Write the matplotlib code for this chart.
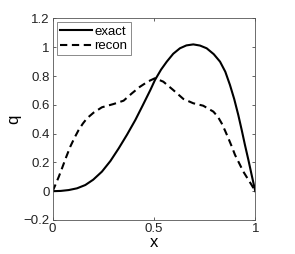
import matplotlib
matplotlib.use("Agg")
import matplotlib.pyplot as plt

x_exact = [0, 0.04, 0.079, 0.12, 0.161, 0.2, 0.243, 0.285, 0.326, 0.367, 0.408,
           0.445, 0.482, 0.505, 0.535, 0.563, 0.595, 0.628, 0.66, 0.694, 0.727,
           0.76, 0.795, 0.826, 0.852, 0.875, 0.896, 0.916, 0.933, 0.949, 0.966,
           0.982, 1.0]
q_exact = [0, 0.002, 0.008, 0.02, 0.043, 0.08, 0.136, 0.21, 0.298, 0.393, 0.495,
           0.598, 0.703, 0.773, 0.845, 0.9, 0.955, 0.993, 1.013, 1.02, 1.012,
           0.993, 0.952, 0.9, 0.83, 0.738, 0.64, 0.53, 0.425, 0.321, 0.217,
           0.113, 0.0]

x_recon = [0, 0.013, 0.03, 0.046, 0.066, 0.087, 0.108, 0.128, 0.149, 0.169, 0.202,
           0.243, 0.301, 0.35, 0.391, 0.43, 0.47, 0.505, 0.546, 0.595, 0.645,
           0.694, 0.743, 0.793, 0.815, 0.834, 0.851, 0.867, 0.884, 0.9, 0.921,
           0.941, 0.962, 0.982, 1.0]
q_recon = [0, 0.043, 0.1, 0.159, 0.235, 0.31, 0.372, 0.425, 0.47, 0.506, 0.546,
           0.583, 0.606, 0.629, 0.68, 0.725, 0.762, 0.785, 0.761, 0.703, 0.641,
           0.611, 0.594, 0.553, 0.518, 0.472, 0.42, 0.368, 0.31, 0.252, 0.193,
           0.136, 0.088, 0.043, 0.0]

xticks = [0, 0.5, 1]
xticklabels = ["0", "0.5", "1"]
yticks = [-0.2, 0, 0.2, 0.4, 0.6, 0.8, 1.0, 1.2]
yticklabels = ["\u22120.2", "0", "0.2", "0.4", "0.6", "0.8", "1", "1.2"]

plt.rcParams['font.family'] = ['Liberation Sans', 'DejaVu Sans']

fig = plt.figure(figsize=(2.95, 2.54), dpi=100)
ax = fig.add_axes([0.1786, 0.1339, 0.6868, 0.7933])

ax.plot(x_exact, q_exact, color='black', lw=1.5, label='exact',
        solid_joinstyle='round')
ax.plot(x_recon, q_recon, color='black', lw=1.5, ls=(0, (3.5, 2.2)),
        label='recon', dash_joinstyle='round')

ax.set_xlim(0, 1)
ax.set_ylim(-0.2, 1.2)
ax.set_xticks(xticks)
ax.set_xticklabels(xticklabels)
ax.set_yticks(yticks)
ax.set_yticklabels(yticklabels)
ax.tick_params(direction='in', length=2.5, width=0.5, labelsize=9.5,
               top=True, right=True, pad=2, colors='#222222')
for s in ax.spines.values():
    s.set_linewidth(0.6)
    s.set_color('#555555')

ax.set_xlabel('x', fontsize=12, labelpad=0)
ax.set_ylabel('q', fontsize=12, labelpad=2)

leg = ax.legend(loc='upper left', fontsize=9.5, frameon=True, fancybox=False,
                handlelength=2.4, handletextpad=0.2, borderpad=0.25,
                labelspacing=0.15, borderaxespad=0.3)
leg.get_frame().set_edgecolor('#555555')
leg.get_frame().set_linewidth(0.6)

fig.savefig('out.png', dpi=100)
